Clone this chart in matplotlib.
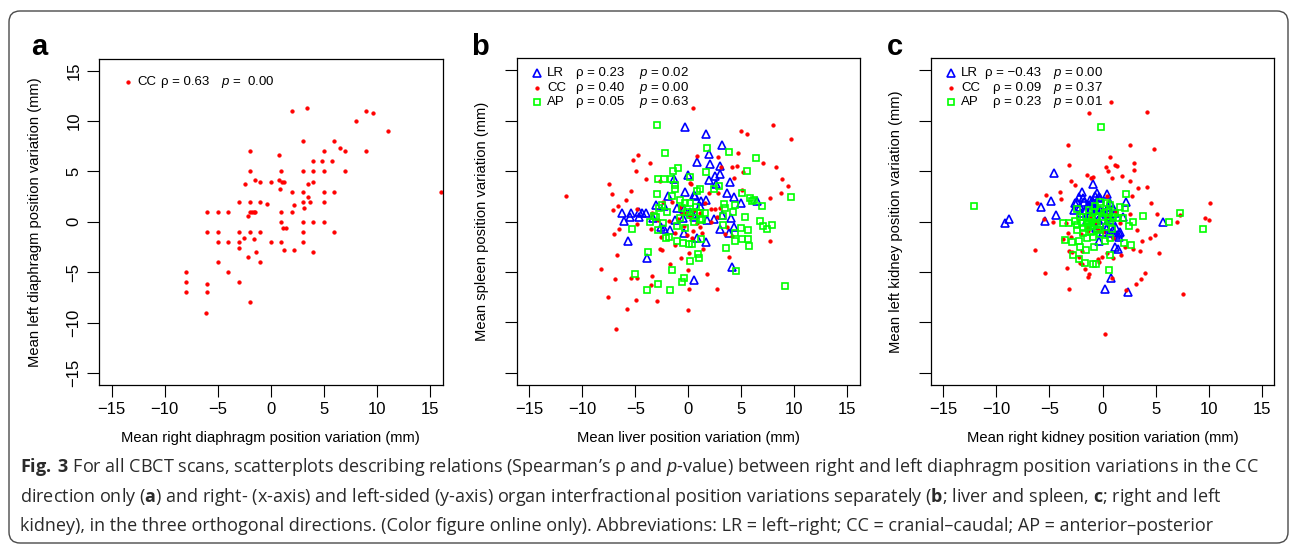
"""Fig. 3 re-draw: organ position variation scatterplots (panels a-c)."""

import matplotlib

matplotlib.use("Agg")
import matplotlib.pyplot as plt
from matplotlib.patches import FancyBboxPatch
from matplotlib.transforms import IdentityTransform

# ---------------------------------------------------------------- data
ticks = [-15, -10, -5, 0, 5, 10, 15]

# panel a: right vs left diaphragm, CC only
a_cc_x = [-8, -8, -8, -6, -6, -6, -6, -6.1, -5, -5, -5, -5, -4, -4, -4, -3, -3, -3, -3, -3,
          -2.5, -2.4, -2.2, -2.2, -2, -2, -2, -2, -2, -2, -1.8, -1.6, -1.6, -1.5, -1.5, -1.4,
          -1, -1, -1, -1, -0.35, 0, 0, 0.8, 0.8, 0.9, 1, 1.05, 1.2, 1, 1, 1.1, 1.4, 1, 1.2,
          2, 2, 2, 2.2, 2.2, 3, 3, 3, 3, 3.1, 3, 3, 3, 3.4, 3.5, 3.5, 3.7, 4, 4, 4, 4, 4,
          4.8, 5, 5, 5, 5, 5, 5.75, 6, 6, 6, 6.5, 7, 7, 8, 9, 9, 9.6, 11, 16]
a_cc_y = [-5, -6, -7, 1, -1, -6.2, -7, -9.1, 1, -1, -2, -4, 1, -2, -5, 2, -1, -2, -2.6, -6,
          -1.6, 3.8, 0.6, -3.5, 7, 5, 2, 1, -1, -8, 1, 1, -1.7, 1, 4.2, -3,
          4, 2, -1, -4, 1.8, 4, -2, 6.6, 4.2, 3.3, 5, 4, 4, 1, 0, -0.6, -0.6, -2, -2.8,
          11, 3, 1, 1.7, -2.8, 8, 5, 3, 2, 1.4, 0, -1, -2, 11.3, 3.8, 2.5, 2, 6, 5, 4, 0, -3,
          6, 7, 5, 3, 2, 0, 6, 8, 3, -1, 7.3, 7, 5, 10, 11, 7, 10.8, 9, 3]

# panel b: liver (x) vs spleen (y)
b_lr_x = [-0.35, 1.67, 3.2, 0.85, 1.95, 2.04, 3.0, 2.95, 2.5, 0,
          -1.35, 1.95, 3.96, 2.6, -0.35, 0.5, 0.66, 3.65, 4.3, -1.95,
          1.67, 4.97, 6.5, -3.1, -2.3, -1.07, -0.44, 1.13, -6.3, -5.4,
          -4.65, -4.34, -4.0, -5.5, -4.7, -6.1, -3.3, -1.3, -0.5, 0.5,
          1.76, 2.4, 3.2, 4.0, -2.26, -1.7, -0.44, 3.0, 3.8, 4.3,
          0.8, 1.67, -5.66, -3.9, 4.1, 0.53, -2.6, 1.2, 0.2, 0.66]
b_lr_y = [9.37, 8.74, 7.58, 5.9, 6.7, 5.7, 5.56, 4.7, 4.5, 4.6,
          4.2, 4.1, 3.9, 3.7, 2.95, 2.65, 2.5, 2.8, 2.4, 2.5,
          2.1, 1.8, 2.0, 1.65, 1.6, 1.4, 1.3, 1.55, 0.83, 0.9,
          1.0, 0.9, 0.9, 0.5, 0.43, 0.03, 0.33, 0.17, 0.33, 0.5,
          0.17, 0.23, 0.66, 0.4, -0.73, -0.83, -1.16, -0.76, -1.16, -0.5,
          -1.66, -2.0, -1.9, -3.6, -4.47, -5.76, -0.5, 2.0, 1.0, 0.73]
b_cc_x = [0.47, 8.0, 4.97, 5.5, 9.65, 0.85, 2.8, 4.7, -5.2, -4.75,
          -3.65, 7.0, 8.24, 3.05, 4.1, 4.6, -4.97, 5.16, 4.34, 8.87,
          -7.5, -4.0, -2.7, 0.19, 0.28, 9.4, -7.2, -5.4, 5.06, 8.74,
          7.67, 2.83, 1.95, -5.9, -6.6, -7.1, -4.87, -3.46, -2.36, -1.5,
          -0.75, -2.9, -1.86, 0.5, 2.14, 2.96, -6.56, -7.0, -4.8, -3.5,
          -2.58, -1.23, -0.13, 0.44, 1.32, 3.43, 4.1, 7.67, -2.67, -2.5,
          -1.23, 1.35, -6.76, -0.7, 0.06, 3.84, -1.73, -8.27, 0, 1.8,
          -6.9, -5.44, -4.84, -3.4, -3.5, 2.7, 0.06, -7.55, -4.94, -2.92,
          -5.8, 0, -6.8, -11.5, -1.0, -0.44, 0.82, 1.13, -0.63, -0.25,
          0.13, 1.6, 0.35, 1.07, 2.17, 2.7, 2.55, 3.65]
b_cc_y = [11.3, 9.57, 9.0, 8.7, 8.2, 6.5, 6.4, 6.8, 6.1, 6.6,
          5.8, 5.86, 5.43, 5.4, 5.46, 5.56, 5.03, 4.97, 4.37, 4.2,
          3.74, 4.24, 4.07, 3.8, 3.7, 3.5, 2.7, 3.05, 3.15, 2.85,
          2.38, 2.8, 2.88, 2.15, 1.56, 1.13, 1.26, 0.9, 1.9, 1.95,
          1.5, 0.2, 0.1, 1.16, 1.26, 1.32, -0.76, -1.19, -0.26, -0.76,
          -1.5, -1.1, -1.3, -0.93, -1.1, -1.23, -1.4, -1.92, -2.72, -2.8,
          -2.3, -2.68, -3.34, -3.58, -3.15, -3.48, -4.2, -4.74, -4.8, -5.2,
          -5.73, -5.63, -5.63, -5.4, -6.26, -6.66, -6.72, -7.5, -7.8, -7.85,
          -8.64, -8.77, -10.6, 2.55, 0.23, -0.43, -0.1, -0.5, 0.73, 0.9,
          0.5, 1.8, -1.66, 0.83, 0, 0.5, 1.26, -0.5]
b_ap_x = [-2.92, -2.2, 1.73, 3.84, 6.35, -0.97, -1.45, 1.64, 5.53, -2.86,
          -2.33, -1.67, 0.13, -1.23, -1.23, 1.07, 0.82, 2.9, 2.45, -2.96,
          -1.57, 5.06, 5.8, 6.15, 6.05, 9.72, -0.75, -0.35, 0.19, -2.5,
          -2.8, 3.33, 3.43, 4.37, 6.95, -2.0, -0.63, -0.13, 0.5, 1.07,
          1.6, -3.27, -3.1, -0.75, 0.19, 1.13, 3.3, 5.3, 4.25, -3.6,
          -2.4, 1.29, 3.3, 6.8, 7.05, 7.4, 7.86, -5.35, -2.9, -1.07,
          -0.28, 4.94, 5.6, 4.37, -2.08, -1.86, -1.04, -0.5, 0.06, 0.31,
          1.23, 4.37, 5.06, 5.6, 5.75, 3.55, 0.88, 0.97, 0.19, -3.8,
          -1.57, 4.5, -5.06, -0.41, -0.57, -2.86, -3.93, -1.7, 9.12, 0.5,
          0.7]
b_ap_y = [9.54, 6.82, 7.3, 6.9, 6.3, 5.33, 5.03, 4.97, 5.03, 4.24,
          4.24, 4.27, 4.44, 3.6, 3.28, 3.2, 3.08, 3.54, 3.2, 2.72,
          2.58, 2.85, 2.3, 2.15, 2.0, 2.42, 2.15, 1.82, 1.82, 1.65,
          1.4, 1.72, 1.39, 1.65, 1.56, 1.0, 1.32, 1.0, 1.0, 0.83,
          0.83, 0.56, 0.43, 0.33, 0.66, 0.23, 0.56, 0.5, 0.93, -0.07,
          -0.13, 0.17, -0.33, 0.07, -0.43, -0.73, -0.3, -0.76, -0.83, -0.43,
          -0.6, -0.66, -0.86, -1.16, -1.66, -1.5, -1.9, -2.15, -2.19, -2.19,
          -1.7, -1.92, -1.76, -1.76, -2.38, -2.65, -3.18, -3.58, -3.9, -3.05,
          -4.77, -4.87, -5.17, -5.63, -5.96, -6.22, -6.8, -6.82, -6.4, 0,
          1.5]

# panel c: right kidney (x) vs left kidney (y)
c_lr_x = [-4.6, -0.94, -1.9, -2.17, -2.45, -2.58, -4.9, -5.8, -4.43, -5.4,
          -8.86, -9.2, -0.5, -0.72, 0.38, -1.2, -0.88, -0.25, -1.35, -1.67,
          -2.1, -0.57, 0.69, 1.0, 2.17, 1.95, 1.16, 5.75, -0.25, 0.38,
          1.0, 1.54, 1.26, -0.31, 1.19, 1.5, 0.79, 0.28, 2.45, -0.88,
          -1.5, 0.69, 0.06, -2.67, -1.82, 0.69, 1.63,
          -1.0, -0.6, -0.2, 0.3, -1.3, -0.9, -0.4, 0.2, 0.9, 1.3,
          -1.7, -0.3, 0.5, -2.0, -1.1, 0.0, 1.6, -0.6]
c_lr_y = [4.87, 3.74, 2.95, 2.42, 1.92, 1.82, 2.08, 1.42, 0.66, 0.1,
          0.23, -0.17, 2.8, 2.58, 2.75, 2.15, 1.99, 2.3, 1.66, 1.16,
          1.49, 1.16, 1.82, 1.32, 1.99, 0.5, 0.83, -0.07, -0.17, -0.66,
          -0.83, -1.16, -1.32, -1.92, -2.55, -2.68, -5.56, -6.66, -7.0, 0.5,
          0.17, 0.5, 1.0, 1.16, 2.32, -1.16, -1.0,
          2.0, 1.5, 1.2, 0.8, 0.6, -0.3, 0.2, -0.4, 0.2, -0.6,
          1.9, 2.4, 1.5, 0.9, 1.3, -1.0, -1.5, -0.6]
c_cc_x = [0.79, 4.24, -1.26, -3.24, 2.64, 4.87, -3.14, 0.69, 0.31, 1.22,
          1.38, 2.95, 2.95, 0.5, -1.45, -1.07, -0.88, 1.88, 0.91, 2.64,
          -3.0, -2.58, 3.33, 4.2, -4.0, -5.34, -3.9, 2.8, 0.41, -6.2,
          4.62, 10.1, 5.18, -5.47, -4.7, -3.4, 2.6, 7.07, 7.3, 9.64,
          10.0, 3.3, 4.96, 4.49, 3.74, -3.77, -3.3, -2.95, -2.0, -1.35,
          -0.41, 0, 1.0, 2.1, 2.92, 3.58, 5.34, -6.4, -3.17, -2.9,
          -1.92, -2.23, -2.1, -1.92, -0.47, -0.35, -0.03, 0.38, 1.0, 1.73,
          -3.39, -1.67, -1.26, -1.35, -5.43, 0.91, 3.99, 3.61, 3.17, 2.2,
          -3.2, 7.57, 0.19, -1.2, -0.57, 0.38, 1.32, 1.63, -1.5]
c_cc_y = [11.9, 10.9, 10.8, 7.65, 7.58, 7.25, 5.66, 6.46, 5.43, 5.63,
          5.56, 5.83, 5.1, 5.03, 4.64, 4.37, 4.44, 4.5, 4.34, 4.0,
          4.0, 3.6, 3.31, 3.41, 2.98, 2.65, 2.22, 2.55, 2.58, 1.89,
          1.89, 1.89, 0.73, 0.3, -0.03, -0.1, 0.76, 0, 0.63, 0.4,
          0.13, -0.86, -1.29, -1.62, -1.89, -1.72, -1.16, -1.5, -1.22, -0.93,
          -0.83, -0.99, -1.66, -2.48, -2.68, -2.9, -3.08, -2.78, -2.9, -3.05,
          -2.9, -3.48, -4.07, -4.2, -3.68, -3.97, -3.48, -3.15, -3.58, -3.3,
          -4.6, -4.74, -5.23, -5.46, -5.07, -5.56, -5.13, -5.73, -6.19, -6.75,
          -6.72, -7.22, -11.16, 0.5, 0, 0.66, 0.99, -0.17, -0.5]
c_ap_x = [-0.1, -12.1, 2.17, 7.32, 6.3, 9.46, 3.86, 2.9, 2.5, 2.1,
          1.63, 2.04, 2.7, 0.57, 0.72, -0.88, -0.57, -0.79, -1.67, -2.2,
          -2.8, -1.6, -2.17, -2.89, -3.55, -3.77, -3.2, -2.6, -2.39, -2.39,
          -2.39, -1.82, -1.5, -1.35, -1.04, -1.26, -0.88, -0.57, -0.25, -0.19,
          0.44, 0.75, 1.0, 0.69, 0.31, 0.75, 0.25, -0.72, -0.41, -1.5,
          -1.82, -1.98, 1.48, 1.95, -2.14, 0.06, 0.38, -0.88, -2.14, -1.13,
          -1.0, -0.5, 0.1, 0.5, -1.8, -0.2, 1.2, -1.3, 0.9, -0.7]
c_ap_y = [9.34, 1.52, 2.72, 0.83, -0.03, -0.73, 0.56, -0.07, -0.43, 1.39,
          1.42, -2.15, -2.32, -4.8, -3.34, -4.2, -4.2, -2.48, -4.07, -3.74,
          -3.34, -2.85, -1.89, -2.05, -1.82, -0.1, -0.1, 0.07, -0.33, -0.83,
          1.29, 0.5, 0, -0.5, 0, 1.16, 0.99, 0.5, 1.16, 1.99,
          1.89, 1.66, 0.5, 0, -0.5, -1.66, -1.92, -0.17, -0.83, -1.66,
          -1.16, -0.17, 0.33, 0.4, 0.5, 0.5, 0.99, -1.5, -2.48, -0.99,
          0.3, -0.3, 0.9, 0.3, -0.6, -1.2, 0.9, -0.2, -0.7, 1.6]

# legend statistics (direction, Spearman rho, p-value)
a_stats = [("CC", "0.63", " 0.00")]
b_stats = [("LR", "0.23", "0.02"), ("CC", "0.40", "0.00"), ("AP", "0.05", "0.63")]
c_stats = [("LR", "\u22120.43", "0.00"), ("CC", "0.09", "0.37"), ("AP", "0.23", "0.01")]

x_labels = ["Mean right diaphragm position variation (mm)",
            "Mean liver position variation (mm)",
            "Mean right kidney position variation (mm)"]
y_labels = ["Mean left diaphragm position variation (mm)",
            "Mean spleen position variation (mm)",
            "Mean left kidney position variation (mm)"]
panel_letters = ["a", "b", "c"]

caption_lines = [
    r"$\mathbf{Fig.\;3}$ For all CBCT scans, scatterplots describing relations (Spearman’s ρ and "
    r"$p$-value) between right and left diaphragm position variations in the CC",
    r"direction only ($\mathbf{a}$) and right- (x-axis) and left-sided (y-axis) organ interfractional "
    r"position variations separately ($\mathbf{b}$; liver and spleen, $\mathbf{c}$; right and left",
    "kidney), in the three orthogonal directions. (Color figure online only). "
    "Abbreviations: LR = left–right; CC = cranial–caudal; AP = anterior–posterior",
]

# ---------------------------------------------------------------- style
plt.rcParams.update({
    "font.family": ["Liberation Sans", "DejaVu Sans"],
    "mathtext.fontset": "custom",
    "mathtext.rm": "Open Sans",
    "mathtext.it": "Liberation Sans:italic",
    "mathtext.bf": "Open Sans:bold",
    "axes.linewidth": 0.9,
})
STYLE = {
    "LR": dict(marker="^", ms=5.6, mfc="none", mec="#0000FF", mew=1.2),
    "CC": dict(marker="o", ms=2.7, mfc="#FF0000", mec="#FF0000", mew=0.3),
    "AP": dict(marker="s", ms=4.4, mfc="none", mec="#00FF00", mew=1.2),
}

W, H = 1292, 546
fig = plt.figure(figsize=(W / 100, H / 100), dpi=100)

# outer rounded frame
frame = FancyBboxPatch((9, 3), 1279, 532, boxstyle="round,pad=0,rounding_size=11",
                       transform=IdentityTransform(), fill=False, ec="#4a4a4a", lw=1.0)
fig.patches.append(frame)


def make_axes(left, top, right, bottom):
    return fig.add_axes([left / W, 1 - bottom / H, (right - left) / W, (bottom - top) / H])


def style_axes(ax, ylabels_on, ylab_x):
    ax.set_xlim(-16.2, 16.2)
    ax.set_ylim(-16.2, 16.2)
    ax.set_xticks(ticks)
    ax.set_yticks(ticks)
    ax.set_xticklabels([str(t).replace("-", "\u2212") for t in ticks])
    ax.tick_params(direction="out", length=8.5, width=0.8, labelsize=12, pad=4)
    if ylabels_on:
        ax.set_yticklabels([str(t).replace("-", "\u2212") for t in ticks],
                           rotation=90, va="center")
    else:
        ax.set_yticklabels([])
    ax.yaxis.set_label_coords(ylab_x, 0.5)
    ax.xaxis.set_label_coords(0.5, -0.14)


def draw_legend(ax, stats, key_x, rho_right, top_y, dy):
    for i, (name, rho, p) in enumerate(stats):
        y = top_y - i * dy
        ax.plot([key_x], [y], transform=ax.transAxes, clip_on=False, ls="none",
                **STYLE[name])
        ax.text(key_x + 0.03, y, name, transform=ax.transAxes, fontsize=9.5, va="center")
        ax.text(rho_right, y, "ρ = " + rho, transform=ax.transAxes, fontsize=9.5,
                va="center", ha="right")
        ax.text(0.356, y, "$p$ = " + p, transform=ax.transAxes, fontsize=9.5,
                va="center")


ax_a = make_axes(99, 58.7, 442.7, 385)
ax_b = make_axes(516.7, 58.3, 860, 385)
ax_c = make_axes(930.7, 58.3, 1274.3, 385)
axes = [ax_a, ax_b, ax_c]

ax_a.plot(a_cc_x, a_cc_y, ls="none", **STYLE["CC"])
for ax, series in [
    (ax_b, [("LR", b_lr_x, b_lr_y), ("CC", b_cc_x, b_cc_y), ("AP", b_ap_x, b_ap_y)]),
    (ax_c, [("LR", c_lr_x, c_lr_y), ("CC", c_cc_x, c_cc_y), ("AP", c_ap_x, c_ap_y)]),
]:
    for name, xs, ys in series:
        ax.plot(xs, ys, ls="none", **STYLE[name])

for ax, xl, yl, on, ylx in zip(axes, x_labels, y_labels, [True, False, False],
                               [-0.165, -0.082, -0.082]):
    style_axes(ax, on, ylx)
    ax.set_xlabel(xl, fontsize=10.6)
    ax.set_ylabel(yl, fontsize=10.6)

draw_legend(ax_a, a_stats, 0.083, 0.320, 0.930, 0.045)
draw_legend(ax_b, b_stats, 0.058, 0.312, 0.954, 0.0445)
draw_legend(ax_c, c_stats, 0.059, 0.321, 0.954, 0.0445)

for letter, x0 in zip(panel_letters, [31, 471, 887]):
    fig.text(x0 / W, 1 - 55 / H, letter, fontsize=21, fontweight="bold",
             ha="left", va="baseline")

# caption, sized so that the first line spans the panel width
renderer = fig.canvas.get_renderer()
cap_texts = []
for i, line in enumerate(caption_lines):
    t = fig.text(20 / W, 1 - (472 + 29.5 * i) / H, line, fontsize=12.5,
                 family="Open Sans", color="#2a2a2a", ha="left", va="baseline")
    cap_texts.append(t)
w0 = cap_texts[0].get_window_extent(renderer).width
scale = 1242 / w0
for t in cap_texts:
    t.set_fontsize(12.5 * scale)

fig.savefig("out.png", dpi=100)
